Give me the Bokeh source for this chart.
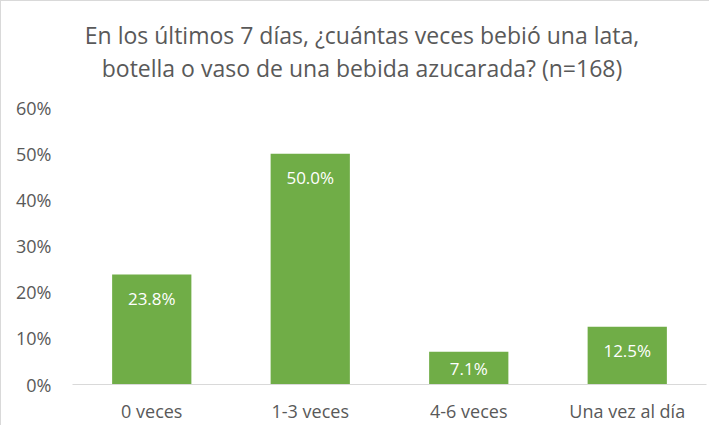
from bokeh.plotting import figure
from bokeh.models import ColumnDataSource, LabelSet, NumeralTickFormatter, FixedTicker, Range1d, Div
from bokeh.layouts import column
from bokeh.core.properties import value
from bokeh.embed import file_html
from bokeh.resources import INLINE

categories = ["0 veces", "1-3 veces", "4-6 veces", "Una vez al día"]
shares = [0.238, 0.500, 0.071, 0.125]
label_texts = ["23.8%", "50.0%", "7.1%", "12.5%"]
title_lines = ["En los últimos 7 días, ¿cuántas veces bebió una lata,",
               "botella o vaso de una bebida azucarada? (n=168)"]
y_ticks = [0, 0.1, 0.2, 0.3, 0.4, 0.5, 0.6]

FONT = "Open Sans"
TXT = "#595959"
W = 708
DIV_H = 90
FIG_H = 334
LEFT, RIGHT, TOP, BOTTOM = 71, 3, 16, 39
frame_h = FIG_H - TOP - BOTTOM
y_max = 0.6

offsets = [-min(24, v / y_max * frame_h / 2) for v in shares]
src = ColumnDataSource(dict(cat=categories, v=shares, lab=label_texts, off=offsets))

title_html = ('<div style="box-sizing:border-box;width:%dpx;padding-top:18px;padding-left:14px;'
              'text-align:center;line-height:33px;font-family:\'Open Sans\';font-size:23px;'
              'color:%s;white-space:nowrap;">%s<br>%s</div>'
              % (W, TXT, title_lines[0], title_lines[1]))
title_div = Div(text=title_html, width=W, height=DIV_H,
                styles={"background-color": "white", "margin": "0"})

p = figure(x_range=categories, y_range=Range1d(0, y_max), width=W, height=FIG_H,
           output_backend="svg", toolbar_location=None,
           min_border_left=LEFT, min_border_right=RIGHT,
           min_border_top=TOP, min_border_bottom=BOTTOM)
p.title = None
p.outline_line_color = None
p.background_fill_color = "white"
p.border_fill_color = "white"
p.grid.grid_line_color = None

p.vbar(x="cat", top="v", width=0.5, source=src, fill_color="#70AD47", line_color=None)

labels = LabelSet(x="cat", y="v", text="lab", y_offset="off", source=src,
                  text_align="center", text_baseline="middle",
                  text_color="white", text_font_size="17px", text_font=value(FONT))
p.add_layout(labels)

p.yaxis.ticker = FixedTicker(ticks=y_ticks)
p.yaxis.formatter = NumeralTickFormatter(format="0%")
p.yaxis.axis_line_color = None
p.yaxis.major_tick_line_color = None
p.yaxis.minor_tick_line_color = None
p.yaxis.major_label_standoff = 15
p.yaxis.major_label_text_font_size = "18px"
p.yaxis.major_label_text_color = TXT
p.yaxis.major_label_text_font = FONT

p.xaxis.axis_line_color = "#D9D9D9"
p.xaxis.major_tick_line_color = None
p.xaxis.minor_tick_line_color = None
p.xaxis.major_label_standoff = 8
p.xaxis.major_label_text_font_size = "18px"
p.xaxis.major_label_text_color = TXT
p.xaxis.major_label_text_font = FONT
p.x_range.range_padding = 0

layout = column(title_div, p, spacing=0,
                styles={"border-left": "1px solid #D9D9D9", "border-top": "1px solid #D9D9D9",
                        "background-color": "white"})

open("out.html", "w").write(file_html(layout, INLINE))
